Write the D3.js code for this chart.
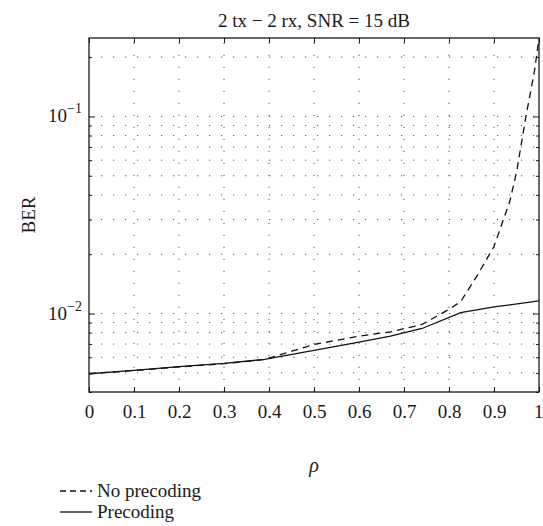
<!DOCTYPE html>
<html>
<head>
<meta charset="utf-8">
<script src="https://cdn.jsdelivr.net/npm/d3@7/dist/d3.min.js"></script>
<style>
  html, body { margin: 0; padding: 0; background: #fff; }
  svg { display: block; font-family: "Liberation Serif", "DejaVu Serif", serif; }
</style>
</head>
<body>
<svg id="chart" width="543" height="526"></svg>
<script>
// ---- data ----
const titleText = "2 tx \u2212 2 rx, SNR = 15 dB";
const xLabel = "\u03C1";
const yLabel = "BER";
const xTicks = [0, 0.1, 0.2, 0.3, 0.4, 0.5, 0.6, 0.7, 0.8, 0.9, 1];
const yMajorTicks = [0.01, 0.1];
const yMajorLabels = ["\u22122", "\u22121"];
const yMinorTicks = [0.004, 0.005, 0.006, 0.007, 0.008, 0.009,
                     0.02, 0.03, 0.04, 0.05, 0.06, 0.07, 0.08, 0.09, 0.2];
const seriesNames = ["No precoding", "Precoding"];

const noPrecX = [0, 0.1, 0.2, 0.3, 0.39, 0.5, 0.6, 0.67, 0.74, 0.8, 0.826, 0.862, 0.9, 0.935, 0.95, 0.971, 0.99, 1.0];
const noPrecY = [0.00495, 0.00514, 0.00536, 0.00557, 0.00585, 0.00697, 0.00768, 0.00808, 0.0088, 0.0105, 0.0115, 0.0155, 0.0219, 0.037, 0.052, 0.1, 0.17, 0.25];

const precX = [0, 0.1, 0.2, 0.3, 0.39, 0.5, 0.6, 0.67, 0.74, 0.826, 0.9, 1.0];
const precY = [0.00495, 0.00515, 0.00538, 0.00559, 0.00585, 0.0065, 0.00716, 0.00768, 0.0084, 0.0101, 0.0108, 0.0116];

// ---- layout ----
const svg = d3.select("#chart");
const L = 89, R = 539, T = 38, B = 392;
const x = d3.scaleLinear().domain([0, 1]).range([L, R]);
const y = d3.scaleLog().domain([0.004, 0.25]).range([B, T]);
const fs = 19;
const ink = "#1a1a1a";

// grid
const grid = svg.append("g").attr("stroke", "#555").attr("stroke-width", 1)
  .attr("stroke-dasharray", "1.2,10.8").attr("fill", "none");
xTicks.slice(1, -1).forEach(t => {
  grid.append("line").attr("x1", x(t)).attr("x2", x(t)).attr("y1", B).attr("y2", T);
});
yMajorTicks.concat(yMinorTicks).filter(v => v > 0.004).forEach(v => {
  grid.append("line").attr("x1", L).attr("x2", R).attr("y1", y(v)).attr("y2", y(v));
});

// axes via d3 axis generators (inward ticks)
const axStyle = g => {
  g.select(".domain").remove();
  g.selectAll("line").attr("stroke", ink).attr("stroke-width", 1);
  g.selectAll("text").attr("font-family", "Liberation Serif, serif").attr("font-size", fs).attr("fill", ink);
};
const xb = svg.append("g").attr("transform", `translate(0,${B})`)
  .call(d3.axisBottom(x).tickValues(xTicks).tickSize(-5).tickPadding(13)
    .tickFormat(d => d === 0 || d === 1 ? String(d) : d3.format(".1f")(d)))
  .call(axStyle);
xb.selectAll("text").filter(d => d === 1).attr("text-anchor", "end").attr("dx", 4);
svg.append("g").attr("transform", `translate(0,${T})`)
  .call(d3.axisTop(x).tickValues(xTicks).tickSize(-5).tickFormat(""))
  .call(axStyle);
svg.append("g").attr("transform", `translate(${L},0)`)
  .call(d3.axisLeft(y).tickValues(yMajorTicks).tickSize(-6).tickFormat(""))
  .call(axStyle);
svg.append("g").attr("transform", `translate(${L},0)`)
  .call(d3.axisLeft(y).tickValues(yMinorTicks).tickSize(-3).tickFormat(""))
  .call(axStyle);
svg.append("g").attr("transform", `translate(${R},0)`)
  .call(d3.axisRight(y).tickValues(yMajorTicks).tickSize(-6).tickFormat(""))
  .call(axStyle);
svg.append("g").attr("transform", `translate(${R},0)`)
  .call(d3.axisRight(y).tickValues(yMinorTicks).tickSize(-3).tickFormat(""))
  .call(axStyle);

// y major labels 10^-n
yMajorTicks.forEach((v, i) => {
  const t = svg.append("text").attr("x", L - 7).attr("y", y(v) + 6)
    .attr("text-anchor", "end").attr("font-size", fs).attr("fill", ink);
  t.append("tspan").text("10");
  t.append("tspan").attr("dy", -9).attr("font-size", 14).text(yMajorLabels[i]);
});

// box
svg.append("rect").attr("x", L).attr("y", T).attr("width", R - L).attr("height", B - T)
  .attr("fill", "none").attr("stroke", ink).attr("stroke-width", 1.3);

// lines
const line = d3.line().x(d => x(d[0])).y(d => y(d[1]));
svg.append("clipPath").attr("id", "clp").append("rect")
  .attr("x", L).attr("y", T - 1).attr("width", R - L + 1).attr("height", B - T + 2);
svg.append("path").datum(noPrecX.map((v, i) => [v, noPrecY[i]]))
  .attr("d", line).attr("fill", "none").attr("stroke", "#111").attr("stroke-width", 1.3)
  .attr("stroke-dasharray", "7,5").attr("clip-path", "url(#clp)");
svg.append("path").datum(precX.map((v, i) => [v, precY[i]]))
  .attr("d", line).attr("fill", "none").attr("stroke", "#111").attr("stroke-width", 1.3)
  .attr("clip-path", "url(#clp)");

// title and labels
svg.append("text").attr("x", (L + R) / 2).attr("y", 27).attr("text-anchor", "middle")
  .attr("font-size", fs).attr("fill", ink).text(titleText);
svg.append("text").attr("x", (L + R) / 2).attr("y", 472).attr("text-anchor", "middle")
  .attr("font-size", fs + 1).attr("font-style", "italic").attr("fill", ink).text(xLabel);
svg.append("text").attr("transform", `translate(35,${(T + B) / 2}) rotate(-90)`)
  .attr("text-anchor", "middle").attr("font-size", fs).attr("fill", ink).text(yLabel);

// legend
const legY = [497, 518];
const dashes = ["6,4", null];
seriesNames.forEach((n, i) => {
  const l = svg.append("line").attr("x1", 60).attr("x2", 92).attr("y1", legY[i] - 6).attr("y2", legY[i] - 6)
    .attr("stroke", "#111").attr("stroke-width", 1.3);
  if (dashes[i]) l.attr("stroke-dasharray", dashes[i]);
  svg.append("text").attr("x", 97).attr("y", legY[i]).attr("font-size", fs).attr("fill", ink).text(n);
});
</script>
</body>
</html>
